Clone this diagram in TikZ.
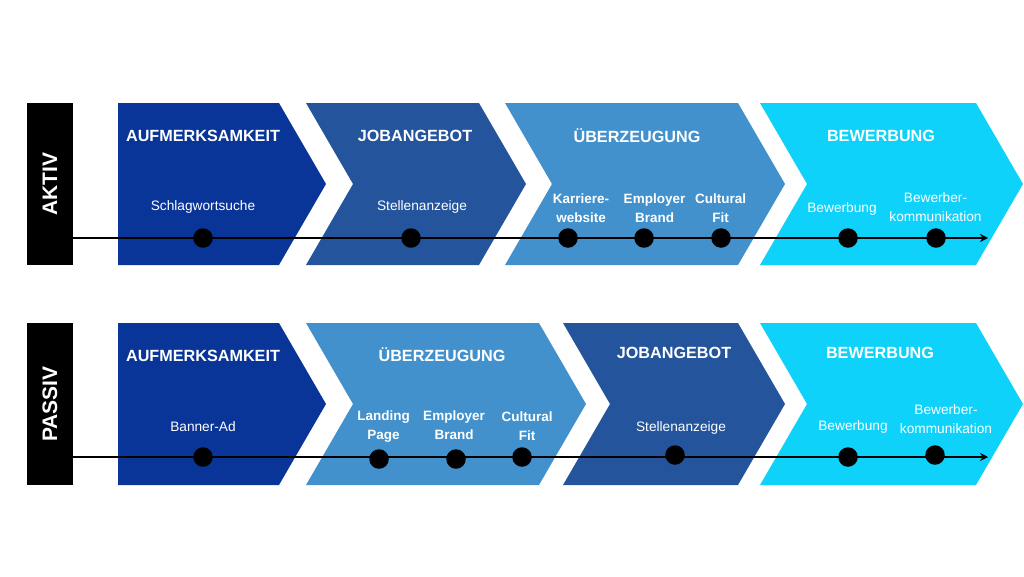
\documentclass[tikz,border=0pt]{standalone}
\usepackage{fontspec}
\setmainfont{Liberation Sans}
\usetikzlibrary{arrows.meta}
\definecolor{cA}{RGB}{10,53,152}
\definecolor{cB}{RGB}{35,84,156}
\definecolor{cC}{RGB}{66,145,204}
\definecolor{cD}{RGB}{14,210,249}
\newcommand{\mychev}[5]{%
  \fill[#1] (#2,#4) -- (#3,#4) -- (#3+47,#4+81) -- (#3,#4+162) -- (#2,#4+162) -- (#2+#5,#4+81) -- cycle;}
\tikzset{
  title/.style={text=white,font=\fontsize{16.2}{18}\selectfont\bfseries,inner sep=0pt},
  sub/.style={text=white,font=\fontsize{13.7}{19}\selectfont,inner sep=0pt,align=center},
  subb/.style={text=white,font=\fontsize{13.5}{19}\selectfont\bfseries,inner sep=0pt,align=center},
  sidebox/.style={fill=black,minimum width=46pt,minimum height=162pt,inner sep=0pt},
  sidetext/.style={text=white,font=\fontsize{21}{24}\selectfont\bfseries,rotate=90,inner sep=0pt},
  dot/.style={circle,fill=black,minimum size=19.5pt,inner sep=0pt},
  tl/.style={line width=1.9pt,-{Stealth[length=8pt,width=8pt]}}
}
\begin{document}
\begin{tikzpicture}[x=1pt,y=-1pt]
\useasboundingbox (0,0) rectangle (1024,576);
% ---------- top row ----------
\mychev{cA}{118}{279}{103}{0}
\mychev{cB}{306}{479}{103}{47}
\mychev{cC}{505}{738}{103}{47}
\mychev{cD}{760}{976}{103}{47}
\node[sidebox] (boxA) at (50,184) {};
\node[sidetext] (lblA) at (boxA.center) {AKTIV};
\node[title] (tA1) at (203,136) {AUFMERKSAMKEIT};
\node[title] (tA2) at (415,136) {JOBANGEBOT};
\node[title] (tA3) at (637,136) {ÜBERZEUGUNG};
\node[title] (tA4) at (881,136) {BEWERBUNG};
\node[sub] (sA1) at (203,207) {Schlagwortsuche};
\node[sub] (sA2) at (422,207) {Stellenanzeige};
\node[subb] (sA3) at (581,208.5) {Karriere-\\website};
\node[subb] (sA4) at (654.5,208.5) {Employer\\Brand};
\node[subb] (sA5) at (720.5,208.5) {Cultural\\Fit};
\node[sub] (sA6) at (842,209) {Bewerbung};
\node[sub] (sA7) at (935.5,207.5) {Bewerber-\\kommunikation};
\coordinate (endA) at (988,238);
\draw[tl] (boxA.east |- endA) -- (endA);
\node[dot] (dA1) at (203,238) {};
\node[dot] (dA2) at (411,238) {};
\node[dot] (dA3) at (568,238) {};
\node[dot] (dA4) at (644,238) {};
\node[dot] (dA5) at (721,238) {};
\node[dot] (dA6) at (848,238) {};
\node[dot] (dA7) at (936,238) {};
% ---------- bottom row ----------
\mychev{cA}{118}{279}{323}{0}
\mychev{cC}{306}{539}{323}{47}
\mychev{cB}{563}{738}{323}{47}
\mychev{cD}{760}{976}{323}{47}
\node[sidebox] (boxP) at (50,404) {};
\node[sidetext] (lblP) at (boxP.center) {PASSIV};
\node[title] (tP1) at (203,356) {AUFMERKSAMKEIT};
\node[title] (tP2) at (442,355) {ÜBERZEUGUNG};
\node[title] (tP3) at (674,353) {JOBANGEBOT};
\node[title] (tP4) at (880,353) {BEWERBUNG};
\node[sub] (sP1) at (203,427) {Banner-Ad};
\node[subb] (sP2) at (383.5,426.5) {Landing\\Page};
\node[subb] (sP3) at (454,425.5) {Employer\\Brand};
\node[subb] (sP4) at (527,426.5) {Cultural\\Fit};
\node[sub] (sP5) at (681,428) {Stellenanzeige};
\node[sub] (sP6) at (853,427) {Bewerbung};
\node[sub] (sP7) at (946,419.5) {Bewerber-\\kommunikation};
\coordinate (endP) at (988,457);
\draw[tl] (boxP.east |- endP) -- (endP);
\node[dot] (dP1) at (203,457) {};
\node[dot] (dP2) at (379,459) {};
\node[dot] (dP3) at (456,459) {};
\node[dot] (dP4) at (522,457) {};
\node[dot] (dP5) at (675,455) {};
\node[dot] (dP6) at (848,457) {};
\node[dot] (dP7) at (935,455) {};
\end{tikzpicture}
\end{document}
